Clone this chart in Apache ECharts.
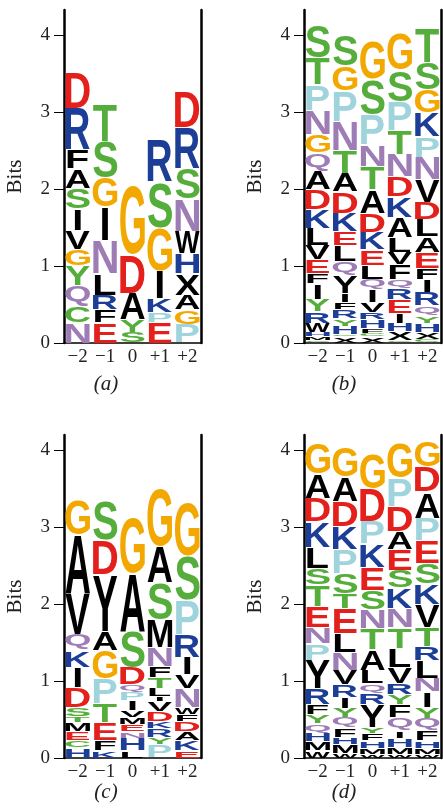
<!DOCTYPE html>
<html><head><meta charset="utf-8">
<script src="https://cdn.jsdelivr.net/npm/echarts@6/dist/echarts.min.js"></script>
<style>html,body{margin:0;padding:0;background:#fff}#c{width:443px;height:810px}</style>
</head><body><div id="c"></div>
<script>
// x positions and y ticks
const positions = ['\u22122','\u22121','0','+1','+2'];
const yTicks = [0,1,2,3,4];
// Letters are listed bottom -> top per position; lowercase 'y' = Y drawn in black
const aLetters = [
 ['N','C','Q','Y','G','V','I','S','A','F','R','D'],
 ['E','F','R','L','N','I','G','S','T'],
 ['S','Y','A','D','G'],
 ['E','P','K','I','G','S','R'],
 ['P','G','A','X','H','W','N','S','R','D']
];
const aBits = [
 [0.26,0.22,0.27,0.26,0.21,0.24,0.28,0.27,0.25,0.25,0.54,0.46],
 [0.26,0.17,0.19,0.28,0.43,0.44,0.38,0.47,0.48],
 [0.14,0.16,0.35,0.50,0.90],
 [0.27,0.13,0.18,0.36,0.56,0.60,0.54],
 [0.24,0.19,0.19,0.28,0.26,0.29,0.42,0.40,0.53,0.46]
];
const bLetters = [
 ['C','M','H','W','R','Y','I','F','E','V','L','K','D','A','Q','G','N','P','T','S'],
 ['X','C','H','Y','R','F','I','y','Q','L','E','K','D','A','T','N','P','G','S'],
 ['X','C','F','H','R','V','I','Q','L','E','K','D','A','T','N','P','S','G'],
 ['C','X','H','I','E','R','Q','F','V','L','A','K','D','N','T','P','S','G'],
 ['C','X','H','Y','Q','R','I','F','E','A','L','D','V','N','P','K','G','S','T']
];
const bBits = [
 [0.03,0.05,0.06,0.12,0.15,0.16,0.20,0.13,0.18,0.19,0.22,0.24,0.26,0.25,0.23,0.24,0.31,0.34,0.35,0.42],
 [0.08,0.03,0.11,0.10,0.11,0.10,0.12,0.23,0.18,0.21,0.18,0.24,0.28,0.24,0.29,0.38,0.40,0.32,0.40],
 [0.08,0.04,0.07,0.11,0.10,0.13,0.16,0.14,0.18,0.20,0.23,0.25,0.30,0.30,0.28,0.40,0.46,0.49],
 [0.03,0.12,0.11,0.13,0.17,0.15,0.11,0.20,0.16,0.19,0.26,0.27,0.26,0.29,0.31,0.38,0.41,0.47],
 [0.04,0.10,0.12,0.10,0.13,0.17,0.16,0.15,0.21,0.20,0.22,0.23,0.29,0.29,0.27,0.31,0.30,0.36,0.45]
];
const cLetters = [
 ['H','C','E','M','T','S','D','I','K','Q','V','A','G'],
 ['K','F','E','T','P','G','A','y','D','S'],
 ['L','H','N','E','M','V','I','P','Q','D','S','A','G'],
 ['P','Y','R','K','D','V','I','L','T','F','N','M','S','A','G'],
 ['E','K','A','D','F','W','N','V','I','R','P','S','G']
];
const cBits = [
 [0.13,0.10,0.11,0.12,0.08,0.12,0.26,0.26,0.22,0.21,0.52,0.77,0.46],
 [0.10,0.13,0.23,0.24,0.33,0.37,0.25,0.73,0.45,0.50],
 [0.10,0.16,0.08,0.09,0.10,0.09,0.13,0.11,0.09,0.22,0.48,0.75,0.74],
 [0.17,0.10,0.11,0.09,0.13,0.13,0.07,0.11,0.14,0.14,0.25,0.36,0.48,0.47,0.75],
 [0.10,0.13,0.11,0.13,0.09,0.10,0.25,0.17,0.23,0.29,0.45,0.57,0.70]
];
const dLetters = [
 ['W','M','H','Q','Y','F','R','y','P','N','E','T','S','L','K','D','A','G'],
 ['W','M','H','F','Q','Y','I','R','V','N','L','E','T','S','P','K','D','A','G'],
 ['W','M','H','F','Y','y','R','Q','L','A','T','N','S','E','K','P','D','G'],
 ['W','M','H','I','Q','F','Y','R','V','L','T','N','K','S','E','A','D','P','G'],
 ['W','M','H','F','Q','Y','I','N','L','R','T','V','K','S','E','P','A','D','G']
];
const dBits = [
 [0.10,0.11,0.11,0.13,0.11,0.13,0.21,0.37,0.22,0.21,0.27,0.28,0.22,0.27,0.33,0.31,0.32,0.40],
 [0.06,0.11,0.10,0.12,0.14,0.12,0.14,0.16,0.19,0.23,0.25,0.32,0.20,0.26,0.31,0.30,0.32,0.32,0.38],
 [0.05,0.08,0.10,0.09,0.08,0.29,0.15,0.13,0.17,0.27,0.28,0.24,0.25,0.30,0.30,0.30,0.42,0.45],
 [0.05,0.09,0.12,0.10,0.16,0.17,0.13,0.15,0.21,0.25,0.27,0.25,0.26,0.23,0.27,0.23,0.33,0.37,0.45],
 [0.05,0.08,0.10,0.13,0.16,0.14,0.20,0.18,0.23,0.18,0.25,0.30,0.27,0.26,0.29,0.30,0.34,0.33,0.34]
];
const captions = ['(a)','(b)','(c)','(d)'];

// ---- styles ----
const RED='#e3201c', BLUE='#1d3e96', GREEN='#55ad3b', ORANGE='#f2a800', PURPLE='#9e7cb6', LBLUE='#a0d4dc', BLACK='#000';
const colorOf = {D:RED,E:RED,K:BLUE,R:BLUE,H:BLUE,S:GREEN,T:GREEN,Y:GREEN,C:GREEN,G:ORANGE,N:PURPLE,Q:PURPLE,P:LBLUE,
  A:BLACK,V:BLACK,L:BLACK,I:BLACK,M:BLACK,F:BLACK,W:BLACK,X:BLACK,y:BLACK};
const FONT_PX = 100;
const FONT = 'bold 100px "Liberation Sans", Arial, Helvetica, sans-serif';
const SERIF = '"Liberation Serif", "Times New Roman", serif';
const mctx = document.createElement('canvas').getContext('2d');
mctx.font = FONT; mctx.textAlign = 'center'; mctx.textBaseline = 'middle';
const metrics = {};
function metric(ch){
  if(!metrics[ch]){ const m = mctx.measureText(ch);
    metrics[ch] = {L:m.actualBoundingBoxLeft, R:m.actualBoundingBoxRight, A:m.actualBoundingBoxAscent, D:m.actualBoundingBoxDescent}; }
  return metrics[ch];
}
const tokens = Object.keys(colorOf);

function buildData(letters, bits){
  const out = [];
  letters.forEach((col, ci) => {
    let acc = 0;
    col.forEach((t, k) => { const h = bits[ci][k]; out.push([ci, acc, acc + h, tokens.indexOf(t)]); acc += h; });
  });
  return out;
}
function renderLetter(params, api){
  const ci = api.value(0), y0 = api.value(1), y1 = api.value(2), li = api.value(3);
  const token = tokens[li]; const ch = token.toUpperCase();
  const bottom = api.coord([ci, y0]); const top = api.coord([ci, y1]);
  const bw = api.size([1, 0])[0];
  const m = metric(ch);
  const inkW = m.L + m.R, inkH = m.A + m.D;
  const wPx = Math.min(inkW / FONT_PX * bw * 1.45, bw * 0.9);
  let hPx = bottom[1] - top[1] - 1; if (hPx < 0.6) hPx = 0.6;
  const sx = wPx / inkW, sy = hPx / inkH;
  const x0 = bottom[0] - wPx / 2, yTop = top[1] + 0.5;
  return {type:'text', x: x0 + sx * m.L, y: yTop + sy * m.A, scaleX: sx, scaleY: sy,
    style:{text: ch, font: FONT, fill: colorOf[token], align:'center', verticalAlign:'middle'}};
}

const panels = [
  {L:aLetters, B:aBits, left:64, top:10, h:333, max:4.33, cx:106, cy:384},
  {L:bLetters, B:bBits, left:304, top:10, h:333, max:4.33, cx:344, cy:384},
  {L:cLetters, B:cBits, left:64, top:435, h:323, max:4.2, cx:106, cy:792},
  {L:dLetters, B:dBits, left:304, top:435, h:323, max:4.2, cx:344, cy:792}
];
const grid=[], xAxis=[], yAxis=[], series=[], graphic=[];
panels.forEach((p, i) => {
  grid.push({left:p.left, top:p.top, width:137, height:p.h});
  xAxis.push({type:'category', gridIndex:i, data:positions,
    axisLine:{lineStyle:{color:'#000', width:1.5}}, axisTick:{show:false},
    axisLabel:{interval:0, margin:5, fontFamily:SERIF, fontSize:19, color:'#222'}});
  yAxis.push({type:'value', gridIndex:i, min:0, max:p.max, interval:1, position:'left',
    name:'Bits', nameLocation:'middle', nameGap:38, nameRotate:90,
    nameTextStyle:{fontFamily:SERIF, fontSize:21, color:'#222'},
    axisLine:{show:true, lineStyle:{color:'#000', width:2.5}},
    axisTick:{show:true, length:10, customValues:yTicks, lineStyle:{color:'#000', width:1}},
    axisLabel:{customValues:yTicks, margin:14, fontFamily:SERIF, fontSize:19, color:'#222'},
    splitLine:{show:false}});
  yAxis.push({type:'value', gridIndex:i, min:0, max:p.max, position:'right',
    axisLine:{show:true, lineStyle:{color:'#000', width:2.5}}, axisTick:{show:false}, axisLabel:{show:false}, splitLine:{show:false}});
  series.push({type:'custom', coordinateSystem:'cartesian2d', xAxisIndex:i, yAxisIndex:2*i,
    silent:true, animation:false, renderItem:renderLetter, encode:{x:0, y:[1,2]}, data:buildData(p.L, p.B)});
  graphic.push({type:'text', x:p.cx, y:p.cy, style:{text:captions[i], align:'center', verticalAlign:'middle',
    font:'italic 21px ' + SERIF, fill:'#222'}});
});
const chart = echarts.init(document.getElementById('c'), null, {renderer:'canvas'});
chart.setOption({animation:false, backgroundColor:'#fff', grid, xAxis, yAxis, series, graphic});
</script></body></html>
